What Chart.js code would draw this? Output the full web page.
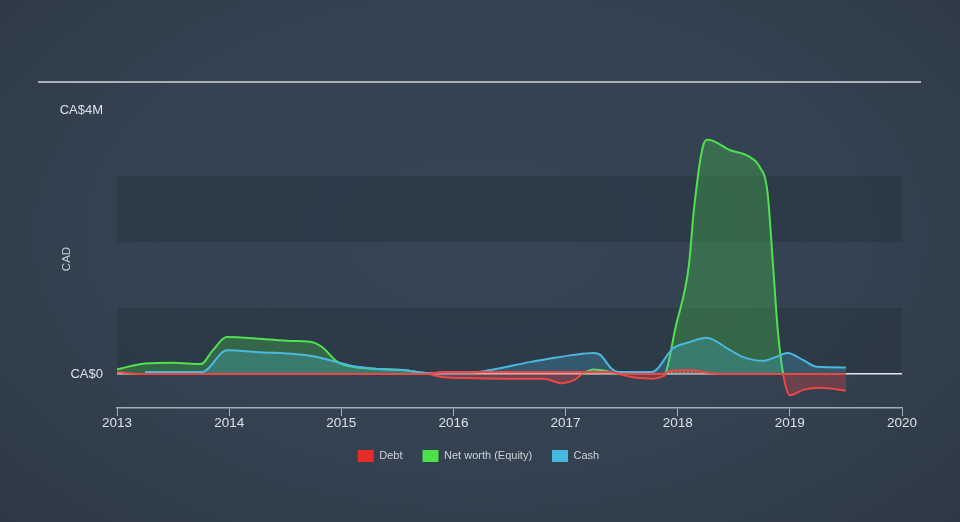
<!DOCTYPE html>
<html><head><meta charset="utf-8">
<script src="https://cdn.jsdelivr.net/npm/chart.js@4.4.1/dist/chart.umd.min.js"></script>
<style>
html,body{margin:0;padding:0;}
body{width:960px;height:522px;overflow:hidden;position:relative;
background:radial-gradient(ellipse 75% 85% at 50% 45%, #364555 0%, #334150 55%, #2c3743 100%);
font-family:'Liberation Sans',Arial,sans-serif;}
#rule{position:absolute;left:38px;top:81px;width:883px;height:2px;background:#aab0b7;}
canvas{position:absolute;left:0;top:0;}
</style></head><body>
<div id="rule"></div>
<canvas id="c" width="960" height="522"></canvas>
<script>
// Values in CAD millions, x as decimal years
const debtYears   = [2013.0, 2013.2, 2015.75, 2015.9, 2017.4, 2017.5, 2017.85, 2017.95, 2018.1, 2018.3, 2018.4, 2019.5];
const debtValues  = [0.03,   0.0,    0.0,     0.03,   0.03,   0.0,    0.0,     0.05,    0.06,   0.01,   0.0,    0.0];

const equityYears  = [2013.0, 2013.25, 2013.5, 2013.75, 2013.85, 2013.98, 2014.3, 2014.55, 2014.72, 2014.82, 2014.97, 2015.1, 2015.3, 2015.55, 2015.78, 2015.92, 2016.1, 2016.5, 2016.8, 2016.97, 2017.08, 2017.15, 2017.25, 2017.38, 2017.47, 2017.6, 2017.78, 2017.86, 2017.89, 2017.98, 2018.1, 2018.145, 2018.23, 2018.27, 2018.47, 2018.63, 2018.73, 2018.8, 2018.85, 2018.89, 2018.94, 2019.0, 2019.12, 2019.27, 2019.5];
const equityValues = [0.07,   0.16,    0.17,   0.15,    0.35,    0.56,    0.53,   0.50,    0.49,    0.42,    0.18,    0.11,   0.08,   0.06,    0.0,     -0.05,   -0.06,  -0.07,  -0.07,  -0.14,   -0.09,   0.0,     0.07,    0.04,    0.0,     -0.05,  -0.07,   -0.04,   0.0,     0.7,     1.65,   2.5,      3.48,    3.55,    3.39,    3.30,    3.14,    2.76,   1.65,    0.71,    0.0,     -0.32,  -0.24,   -0.21,   -0.25];

const cashYears  = [2013.25, 2013.5, 2013.76, 2013.98, 2014.28, 2014.6, 2014.75, 2014.96, 2015.1, 2015.3, 2015.55, 2015.78, 2016.1, 2016.33, 2016.68, 2016.85, 2017.07, 2017.25, 2017.31, 2017.4, 2017.47, 2017.77, 2017.96, 2018.1, 2018.26, 2018.44, 2018.58, 2018.76, 2018.88, 2018.98, 2019.12, 2019.24, 2019.5];
const cashValues = [0.03,    0.03,   0.03,    0.36,    0.33,    0.30,   0.27,    0.18,    0.12,   0.08,   0.06,    0.015,   0.01,   0.06,    0.18,    0.23,    0.29,    0.32,    0.29,    0.10,   0.03,    0.03,    0.39,    0.48,   0.55,    0.39,    0.26,    0.20,    0.26,    0.32,    0.21,    0.11,    0.10];

const xTickYears = [2013, 2014, 2015, 2016, 2017, 2018, 2019, 2020];
const yTickValues = [0, 4];
const legendNames = ['Debt', 'Net worth (Equity)', 'Cash'];

const RED = '#ee4646', GREEN = '#4fe24f', BLUE = '#4bb8de';

const toPts = (xs, ys) => xs.map((x, i) => ({x: x, y: ys[i]}));

const canvas = document.getElementById('c');
const ctx = canvas.getContext('2d');
const pc = document.createElement('canvas'); pc.width = 4; pc.height = 4;
const p = pc.getContext('2d');
p.fillStyle = 'rgba(238,70,70,0.22)'; p.fillRect(0,0,4,4);
p.strokeStyle = 'rgba(240,110,110,0.75)'; p.lineWidth = 1;
p.beginPath(); p.moveTo(0,4); p.lineTo(4,0); p.stroke();
const hatch = ctx.createPattern(pc, 'repeat');

const bandRanges = [[0,1],[2,3]];
const bandsPlugin = {
  id: 'bands',
  beforeDraw(chart) {
    const {ctx, chartArea: a, scales: {y}} = chart;
    ctx.save();
    ctx.fillStyle = 'rgba(33,43,55,0.36)';
    bandRanges.forEach(([lo, hi]) => {
      const t = y.getPixelForValue(hi), b = y.getPixelForValue(lo);
      ctx.fillRect(a.left, t, a.right - a.left, b - t);
    });
    ctx.restore();
  }
};

const common = {pointRadius: 0, pointHoverRadius: 0, borderWidth: 2, cubicInterpolationMode: 'monotone'};

new Chart(ctx, {
  type: 'line',
  data: {
    datasets: [
      Object.assign({}, common, {
        label: legendNames[0], data: toPts(debtYears, debtValues), order: 0,
        borderColor: RED, backgroundColor: hatch, fill: 'origin', legendColor: '#e82a2a'
      }),
      Object.assign({}, common, {
        label: legendNames[1], data: toPts(equityYears, equityValues), order: 2,
        borderColor: GREEN, backgroundColor: 'rgba(79,226,79,0.27)',
        segment: { borderColor: c => (c.p0.parsed.y < 0 || c.p1.parsed.y < 0) ? RED : GREEN },
        fill: {target: 'origin', above: 'rgba(79,226,79,0.27)', below: 'rgba(238,70,70,0.3)'},
        legendColor: '#4ce24c'
      }),
      Object.assign({}, common, {
        label: legendNames[2], data: toPts(cashYears, cashValues), order: 1,
        borderColor: BLUE, backgroundColor: 'rgba(75,184,222,0.25)', fill: 'origin',
        legendColor: '#48b8e0'
      })
    ]
  },
  options: {
    responsive: false,
    animation: false,
    devicePixelRatio: 1,
    layout: {padding: {left: 55, right: 58, top: 110, bottom: 50}},
    plugins: {
      tooltip: {enabled: false},
      legend: {
        position: 'bottom',
        labels: {
          boxWidth: 16, boxHeight: 12, padding: 20, color: '#cdd2d8',
          font: {family: "'Liberation Sans', Arial, sans-serif", size: 11},
          sort: (a, b) => a.datasetIndex - b.datasetIndex,
          generateLabels(chart) {
            const items = Chart.defaults.plugins.legend.labels.generateLabels(chart);
            items.forEach(it => {
              const ds = chart.data.datasets[it.datasetIndex];
              it.fillStyle = ds.legendColor; it.strokeStyle = ds.legendColor; it.lineWidth = 0;
            });
            return items;
          }
        }
      }
    },
    scales: {
      x: {
        type: 'linear', min: 2013, max: 2020,
        afterBuildTicks: s => { s.ticks = xTickYears.map(v => ({value: v})); },
        afterFit: s => { s.height = 22; },
        ticks: {
          color: '#dde1e6', padding: -1, maxRotation: 0, autoSkip: false,
          font: {family: "'Liberation Sans', Arial, sans-serif", size: 13.5},
          callback: v => String(v)
        },
        grid: {drawOnChartArea: false, drawTicks: true, tickLength: 8, color: '#a6aeb8', lineWidth: 1},
        border: {display: true, color: '#a6aeb8', width: 1.5}
      },
      y: {
        type: 'linear', min: -0.515, max: 4,
        afterBuildTicks: s => { s.ticks = yTickValues.map(v => ({value: v})); },
        afterFit: s => { s.width = 62; },
        ticks: {
          color: '#dde1e6', padding: 14,
          font: {family: "'Liberation Sans', Arial, sans-serif", size: 13},
          callback: v => v === 0 ? 'CA$0' : 'CA$' + v + 'M'
        },
        grid: {
          drawTicks: false, lineWidth: 1.5,
          color: c => (c.tick && c.tick.value === 0) ? '#e4e7ea' : 'rgba(0,0,0,0)'
        },
        border: {display: false},
        title: {
          display: true, text: 'CAD', color: '#c9ced4', padding: {top: 5, bottom: 0},
          font: {family: "'Liberation Sans', Arial, sans-serif", size: 11.5}
        }
      }
    }
  },
  plugins: [bandsPlugin]
});
</script>
</body></html>
